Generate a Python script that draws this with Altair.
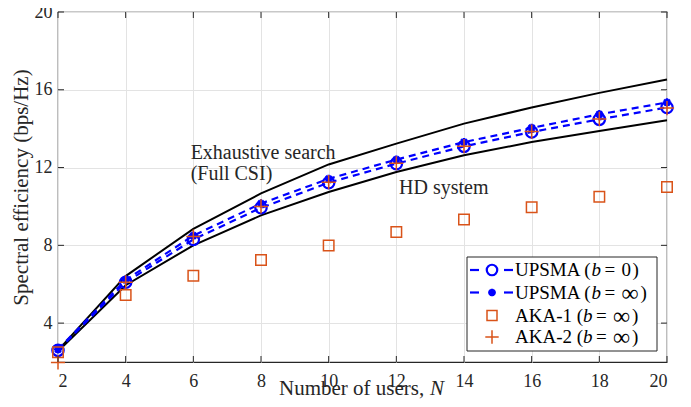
import altair as alt
import pandas as pd

N = [2, 4, 6, 8, 10, 12, 14, 16, 18, 20]
exhaustive = [2.6, 6.42, 8.85, 10.67, 12.16, 13.23, 14.26, 15.09, 15.84, 16.53]
hd_system = [2.55, 5.95, 8.0, 9.54, 10.74, 11.77, 12.63, 13.31, 13.88, 14.43]
upsma_b0 = [2.6, 6.1, 8.3, 9.93, 11.22, 12.2, 13.09, 13.83, 14.48, 15.09]
upsma_binf = [2.65, 6.22, 8.5, 10.15, 11.42, 12.41, 13.31, 14.04, 14.74, 15.35]
aka1 = [2.5, 5.45, 6.44, 7.25, 7.99, 8.68, 9.33, 9.96, 10.5, 11.0]
aka2 = [1.98, 6.1, 8.45, 10.0, 11.25, 12.22, 13.1, 13.85, 14.5, 15.06]

x_ticks = [2, 4, 6, 8, 10, 12, 14, 16, 18, 20]
y_ticks = [4, 8, 12, 16, 20]

legend_names = ["UPSMA", "UPSMA", "AKA-1", "AKA-2"]
legend_vals = ["0", "∞", "∞", "∞"]

W, H = 609, 350
FONT = "Liberation Serif, Times New Roman, DejaVu Serif, serif"
BLUE = "#0000ff"
ORANGE = "#d95319"
TXT = "#262626"

df = pd.DataFrame({"N": N, "ex": exhaustive, "hd": hd_system, "u0": upsma_b0,
                   "ui": upsma_binf, "a1": aka1, "a2": aka2})

xs = alt.Scale(domain=[2, 20], nice=False)
ys = alt.Scale(domain=[2, 20], nice=False)

xax = alt.Axis(values=x_ticks, grid=True, gridColor="#e3e3e3", tickSize=0, domain=False,
               labelFont=FONT, labelFontSize=18, labelColor=TXT, labelPadding=10,
               title=None)
yax = alt.Axis(values=y_ticks, grid=True, gridColor="#e3e3e3", tickSize=0, domain=False,
               labelFont=FONT, labelFontSize=18, labelColor=TXT, labelPadding=6,
               title="Spectral efficiency (bps/Hz)", titleFont=FONT, titleFontSize=21,
               titleFontWeight="normal", titleColor=TXT, titlePadding=3)

base = alt.Chart(df)

grid = base.mark_point(opacity=0).encode(
    x=alt.X("N:Q", scale=xs, axis=xax), y=alt.Y("ex:Q", scale=ys, axis=yax))

def line(field, color, dash=None, width=2):
    kw = dict(color=color, strokeWidth=width)
    if dash:
        kw["strokeDash"] = dash
    return base.mark_line(**kw).encode(x=alt.X("N:Q", scale=xs), y=alt.Y(f"{field}:Q", scale=ys))

ex_line = line("ex", "black", width=2)
hd_line = line("hd", "black", width=2)
u0_line = line("u0", BLUE, dash=[7, 5], width=2.2)
ui_line = line("ui", BLUE, dash=[7, 5], width=2.2)

STAR = "M-1,0L1,0M0,-1L0,1M-0.7,-0.7L0.7,0.7M-0.7,0.7L0.7,-0.7"
PLUS = "M-1,0L1,0M0,-1L0,1"

u0_pts = base.mark_point(shape="circle", filled=False, color=BLUE, size=130, strokeWidth=2.2,
                         opacity=1).encode(x=alt.X("N:Q", scale=xs), y=alt.Y("u0:Q", scale=ys))
ui_pts = base.mark_point(shape=STAR, filled=False, color=BLUE, size=70, strokeWidth=2.4,
                         opacity=1).encode(x=alt.X("N:Q", scale=xs), y=alt.Y("ui:Q", scale=ys))
a1_pts = base.mark_point(shape="square", filled=False, color=ORANGE, size=110, strokeWidth=1.5,
                         opacity=1).encode(x=alt.X("N:Q", scale=xs), y=alt.Y("a1:Q", scale=ys))
a2_pts = base.mark_point(shape=PLUS, filled=False, color=ORANGE, size=200, strokeWidth=1.5,
                         opacity=1).encode(x=alt.X("N:Q", scale=xs), y=alt.Y("a2:Q", scale=ys))

# inward ticks (MATLAB box style)
xt = pd.DataFrame({"t": x_ticks})
yt = pd.DataFrame({"t": y_ticks})
tick_style = dict(color=TXT, strokeWidth=1)
xt_bot = alt.Chart(xt).mark_rule(**tick_style).encode(
    x=alt.X("t:Q", scale=xs), y=alt.value(H), y2=alt.value(H - 6))
xt_top = alt.Chart(xt).mark_rule(**tick_style).encode(
    x=alt.X("t:Q", scale=xs), y=alt.value(0), y2=alt.value(6))
yt_left = alt.Chart(yt).mark_rule(**tick_style).encode(
    y=alt.Y("t:Q", scale=ys), x=alt.value(0), x2=alt.value(6))
yt_right = alt.Chart(yt).mark_rule(**tick_style).encode(
    y=alt.Y("t:Q", scale=ys), x=alt.value(W), x2=alt.value(W - 6))

one = alt.Chart(pd.DataFrame({"a": [0]}))

# x axis title, with italic N
xt_1 = one.mark_text(font=FONT, fontSize=21, align="left", baseline="alphabetic", color=TXT).encode(
    x=alt.value(221), y=alt.value(383), text=alt.value("Number of users,"))
xt_2 = one.mark_text(font=FONT, fontSize=21, fontStyle="italic", align="left",
                     baseline="alphabetic", color=TXT).encode(
    x=alt.value(372), y=alt.value(383), text=alt.value("N"))

# annotations
ann = pd.DataFrame({"x": [5.92, 5.92, 12.08], "y": [12.42, 11.36, 10.62],
                    "t": ["Exhaustive search", "(Full CSI)", "HD system"]})
ann_text = alt.Chart(ann).mark_text(font=FONT, fontSize=20, align="left", baseline="alphabetic",
                                    color=TXT).encode(
    x=alt.X("x:Q", scale=xs), y=alt.Y("y:Q", scale=ys), text="t:N")

# legend
LX0, LX1, LY0, LY1 = 409, 599, 245, 339
leg_box = one.mark_rect(fill="white", stroke=TXT, strokeWidth=1).encode(
    x=alt.value(LX0), x2=alt.value(LX1), y=alt.value(LY0), y2=alt.value(LY1))

rows_y = [258, 280.5, 303.5, 325]
b_x = [533.5, 533.5, 525, 525]
leg_layers = []
for i, ry in enumerate(rows_y):
    if i < 2:
        leg_layers.append(one.mark_rule(color=BLUE, strokeWidth=2.2).encode(
            x=alt.value(412), x2=alt.value(421), y=alt.value(ry)))
        leg_layers.append(one.mark_rule(color=BLUE, strokeWidth=2.2).encode(
            x=alt.value(446), x2=alt.value(455), y=alt.value(ry)))
    if i == 0:
        m = one.mark_point(shape="circle", filled=False, color=BLUE, size=110, strokeWidth=2.2, opacity=1)
    elif i == 1:
        m = one.mark_point(shape=STAR, filled=False, color=BLUE, size=60, strokeWidth=2.4, opacity=1)
    elif i == 2:
        m = one.mark_point(shape="square", filled=False, color=ORANGE, size=100, strokeWidth=1.5, opacity=1)
    else:
        m = one.mark_point(shape=PLUS, filled=False, color=ORANGE, size=180, strokeWidth=1.5, opacity=1)
    leg_layers.append(m.encode(x=alt.value(434), y=alt.value(ry)))
    tkw = dict(font=FONT, fontSize=19, align="left", color="black")
    is_inf = legend_vals[i] == "∞"
    leg_layers.append(one.mark_text(**tkw).encode(
        x=alt.value(457), y=alt.value(ry), text=alt.value(legend_names[i] + " (")))
    leg_layers.append(one.mark_text(fontStyle="italic", **tkw).encode(
        x=alt.value(b_x[i]), y=alt.value(ry), text=alt.value("b")))
    leg_layers.append(one.mark_text(**tkw).encode(
        x=alt.value(b_x[i] + 13), y=alt.value(ry), text=alt.value("=")))
    vkw = dict(tkw)
    if is_inf:
        vkw["fontSize"] = 24
    leg_layers.append(one.mark_text(**vkw).encode(
        x=alt.value(b_x[i] + 30), y=alt.value(ry + (1 if is_inf else 0)),
        text=alt.value(legend_vals[i])))
    leg_layers.append(one.mark_text(**tkw).encode(
        x=alt.value(b_x[i] + (49 if is_inf else 41)), y=alt.value(ry), text=alt.value(")")))

chart = alt.layer(
    grid, ex_line, hd_line, u0_line, ui_line, u0_pts, ui_pts, a1_pts, a2_pts,
    xt_bot, xt_top, yt_left, yt_right, xt_1, xt_2, ann_text, leg_box, *leg_layers
).properties(
    width=W, height=H,
    autosize=alt.AutoSizeParams(type="none"),
    padding={"left": 50, "top": 4, "right": 16, "bottom": 41},
).configure_view(stroke=TXT, strokeWidth=1.2)

chart.save("out.html", embed_options={"renderer": "svg", "actions": False})
